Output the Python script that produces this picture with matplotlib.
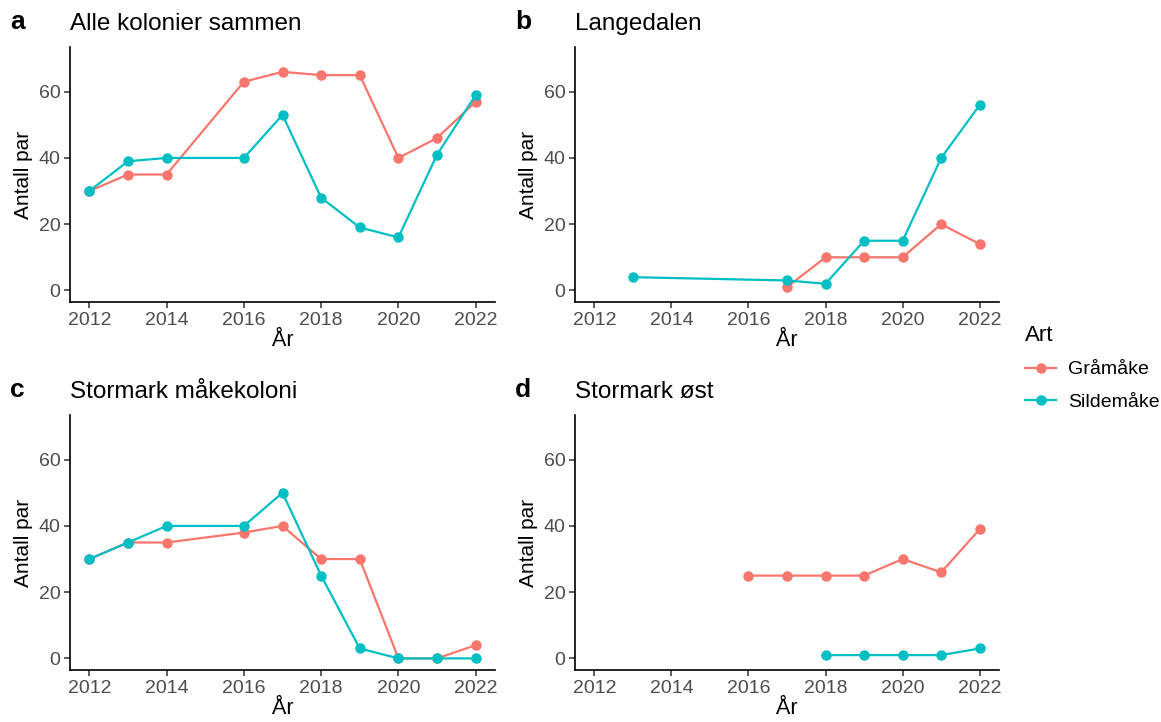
import matplotlib.pyplot as plt
from matplotlib.lines import Line2D

plt.rcParams['font.family'] = ['Liberation Sans', 'DejaVu Sans']

# Gull counts (breeding pairs) per colony and year
years_a = [2012, 2013, 2014, 2016, 2017, 2018, 2019, 2020, 2021, 2022]
graamaake_a = [30, 35, 35, 63, 66, 65, 65, 40, 46, 57]
sildemaake_a = [30, 39, 40, 40, 53, 28, 19, 16, 41, 59]

years_b_graa = [2017, 2018, 2019, 2020, 2021, 2022]
graamaake_b = [1, 10, 10, 10, 20, 14]
years_b_silde = [2013, 2017, 2018, 2019, 2020, 2021, 2022]
sildemaake_b = [4, 3, 2, 15, 15, 40, 56]

years_c = [2012, 2013, 2014, 2016, 2017, 2018, 2019, 2020, 2021, 2022]
graamaake_c = [30, 35, 35, 38, 40, 30, 30, 0, 0, 4]
sildemaake_c = [30, 35, 40, 40, 50, 25, 3, 0, 0, 0]

years_d_graa = [2016, 2017, 2018, 2019, 2020, 2021, 2022]
graamaake_d = [25, 25, 25, 25, 30, 26, 39]
years_d_silde = [2018, 2019, 2020, 2021, 2022]
sildemaake_d = [1, 1, 1, 1, 3]

panels = [
    ("a", "Alle kolonier sammen", years_a, graamaake_a, years_a, sildemaake_a),
    ("b", "Langedalen", years_b_graa, graamaake_b, years_b_silde, sildemaake_b),
    ("c", "Stormark måkekoloni", years_c, graamaake_c, years_c, sildemaake_c),
    ("d", "Stormark øst", years_d_graa, graamaake_d, years_d_silde, sildemaake_d),
]

species = ["Gråmåke", "Sildemåke"]
colors = ["#F8766D", "#00BFC4"]

W, H = 1161, 722
fig = plt.figure(figsize=(W / 100, H / 100), dpi=100)

# panel boxes in pixels: left, top, right, bottom
boxes = [(70, 47, 495, 302), (575, 47, 999, 302),
         (70, 415, 495, 670), (575, 415, 999, 670)]

tick_col = "#4D4D4D"
for (tag, title, xg, yg, xs, ys), (l, t, r, b) in zip(panels, boxes):
    ax = fig.add_axes([l / W, 1 - b / H, (r - l) / W, (b - t) / H])
    ax.plot(xg, yg, color=colors[0], lw=1.6, marker="o", ms=6.5)
    ax.plot(xs, ys, color=colors[1], lw=1.6, marker="o", ms=6.5)
    ax.set_xlim(2011.5, 2022.5)
    ax.set_ylim(-3.5, 73.5)
    ax.set_xticks(range(2012, 2023, 2))
    ax.set_yticks([0, 20, 40, 60])
    for side in ["top", "right"]:
        ax.spines[side].set_visible(False)
    for side in ["left", "bottom"]:
        ax.spines[side].set_linewidth(1.2)
        ax.spines[side].set_color("black")
    ax.tick_params(axis="both", length=4, width=1.1, color="#333333",
                   labelsize=14, labelcolor=tick_col, pad=3)
    ax.set_xlabel("År", fontsize=15.5, labelpad=1)
    ax.set_ylabel("Antall par", fontsize=15, labelpad=4)
    ax.set_title(title, fontsize=17.5, loc="left", pad=12)
    fig.text((l - 60) / W, 1 - (t - 18) / H, tag, fontsize=19,
             fontweight="bold", ha="left", va="baseline")

# shared legend on the right
handles = [Line2D([0], [0], color=c, lw=1.6, marker="o", ms=6.5) for c in colors]
leg = fig.legend(handles, species, title="Art", loc="center left",
                 bbox_to_anchor=(1025 / W, 1 - 368 / H), frameon=False,
                 borderpad=0, borderaxespad=0,
                 fontsize=14, title_fontsize=16, handlelength=1.6,
                 handletextpad=0.6, labelspacing=0.75, alignment="left")

fig.savefig("out.png", dpi=100)
